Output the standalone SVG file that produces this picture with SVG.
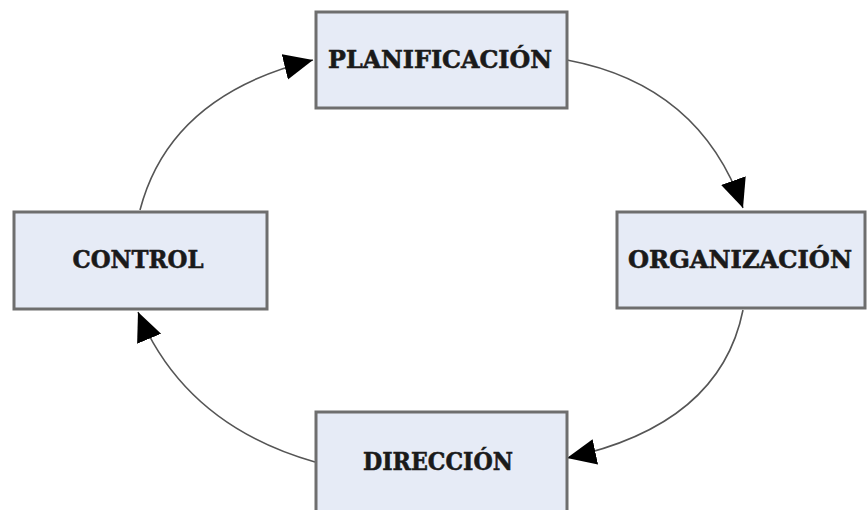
<svg xmlns="http://www.w3.org/2000/svg" width="867" height="510" viewBox="0 0 867 510">
<defs>
<marker id="arr" markerUnits="userSpaceOnUse" markerWidth="32" markerHeight="28" refX="29" refY="13" orient="auto">
<path d="M0,0 L29,13 L0,26 z" fill="#000"/>
</marker>
</defs>
<style>
.box{fill:#e6ebf6;stroke:#6e6e6e;stroke-width:3}
.lbl{font-family:"DejaVu Serif","Liberation Serif",serif;font-weight:bold;font-size:25px;fill:#1a1a1a;stroke:#1a1a1a;stroke-width:0.6;text-anchor:middle}
.conn{fill:none;stroke:#555;stroke-width:1.6;marker-end:url(#arr)}
</style>
<rect width="867" height="510" fill="#fff"/>
<g id="connectors">
<path class="conn" d="M567,60 Q700,85 743,208"/>
<path class="conn" d="M743,310 Q720,425 567,458"/>
<path class="conn" d="M315,462 Q185,425 138,312"/>
<path class="conn" d="M140,210 Q170,95 313,60"/>
</g>
<g id="planificacion">
<rect class="box" x="316" y="12" width="251" height="96"/>
<text class="lbl" x="440" y="68" textLength="224" lengthAdjust="spacingAndGlyphs">PLANIFICACIÓN</text>
</g>
<g id="control">
<rect class="box" x="14" y="212" width="253" height="97"/>
<text class="lbl" x="138" y="268" textLength="131" lengthAdjust="spacingAndGlyphs">CONTROL</text>
</g>
<g id="organizacion">
<rect class="box" x="617" y="212" width="248" height="96"/>
<text class="lbl" x="740" y="268" textLength="224" lengthAdjust="spacingAndGlyphs">ORGANIZACIÓN</text>
</g>
<g id="direccion">
<rect class="box" x="316" y="412" width="251" height="100"/>
<text class="lbl" x="438" y="470" textLength="150" lengthAdjust="spacingAndGlyphs">DIRECCIÓN</text>
</g>
</svg>
